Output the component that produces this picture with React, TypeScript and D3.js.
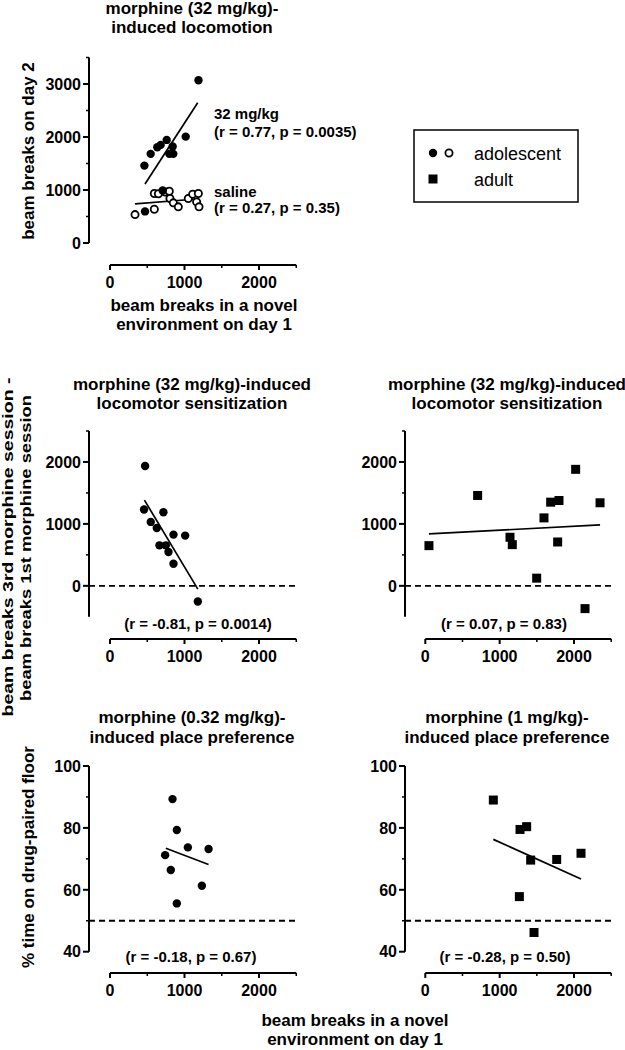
import React from "react";
import * as d3 from "d3";

// ---------- data ----------
const xMajorTicks = [0, 1000, 2000];
const xMinorTicks = [500, 1500, 2500];

// top: morphine (32 mg/kg)-induced locomotion, adolescent
const loco32X = [462, 546, 635, 680, 761, 841, 796, 850, 1016, 1188, 470, 707];
const loco32Y = [1460, 1682, 1808, 1851, 1945, 1820, 1682, 1682, 2007, 3070, 596, 990];
const locoSalX = [336, 595, 595, 740, 796, 805, 850, 917, 1051, 1110, 1186, 1163, 1195, 650];
const locoSalY = [536, 637, 933, 960, 977, 840, 758, 682, 840, 921, 933, 775, 682, 930];
const loco32FitX = [470, 1177];
const loco32FitY = [1113, 2647];
const locoSalFitX = [336, 1166];
const locoSalFitY = [740, 830];

// middle: sensitization
const sensAdoX = [471, 457, 547, 628, 717, 664, 749, 785, 852, 852, 1009, 1179];
const sensAdoY = [1935, 1232, 1032, 935, 1189, 654, 654, 546, 827, 357, 811, -254];
const sensAdoFitX = [462, 1179];
const sensAdoFitY = [1384, -54];
const sensAdultX = [49, 704, 1139, 1170, 1498, 1596, 1686, 1798, 1780, 2022, 2148, 2350];
const sensAdultY = [649, 1459, 784, 665, 124, 1097, 1351, 1378, 708, 1881, -368, 1341];
const sensAdultFitX = [49, 2350];
const sensAdultFitY = [838, 984];

// bottom: place preference
const cppAdoX = [839, 897, 1045, 1323, 740, 816, 1233, 897];
const cppAdoY = [89.3, 79.3, 73.7, 73.2, 71.2, 66.4, 61.3, 55.6];
const cppAdoFitX = [749, 1323];
const cppAdoFitY = [73.4, 68.2];
const cppAdultX = [915, 1274, 1363, 1417, 1767, 2094, 1265, 1462];
const cppAdultY = [89.0, 79.5, 80.4, 69.6, 69.8, 71.8, 57.8, 46.2];
const cppAdultFitX = [915, 2094];
const cppAdultFitY = [76.3, 63.5];

const FONT = "'Liberation Sans', Arial, Helvetica, sans-serif";

type Series = { xs: number[]; ys: number[]; shape: "filled" | "open" | "square" };
type Fit = { xs: number[]; ys: number[] };

type PanelProps = {
  yAxisX: number;
  xRange: [number, number];
  yDomain: [number, number];
  yRange: [number, number];
  xAxisY: number;
  yMajor: number[];
  yMinor: number[];
  series: Series[];
  fits: Fit[];
  refLine?: number;
};

function Marker({ cx, cy, shape }: { cx: number; cy: number; shape: string }) {
  if (shape === "square") return <rect x={cx - 4.5} y={cy - 4.5} width={9} height={9} fill="#000" />;
  if (shape === "open") return <circle cx={cx} cy={cy} r={3.6} fill="#fff" stroke="#000" strokeWidth={1.8} />;
  return <circle cx={cx} cy={cy} r={4.2} fill="#000" />;
}

function Panel(p: PanelProps) {
  const x = d3.scaleLinear().domain([0, 2500]).range(p.xRange);
  const y = d3.scaleLinear().domain(p.yDomain).range(p.yRange);
  const line = d3
    .line<[number, number]>()
    .x((d) => x(d[0]))
    .y((d) => y(d[1]));
  const yFmt = d3.format("d");
  return (
    <g>
      <line x1={p.yAxisX} x2={p.yAxisX} y1={y(p.yDomain[0])} y2={y(p.yDomain[1])} stroke="#000" strokeWidth={2} />
      {p.yMajor.map((t) => (
        <g key={"ym" + t}>
          <line x1={p.yAxisX - 6} x2={p.yAxisX} y1={y(t)} y2={y(t)} stroke="#000" strokeWidth={2} />
          <text x={p.yAxisX - 8} y={y(t)} dy="0.36em" textAnchor="end" fontSize={16} fontWeight="bold" fontFamily={FONT}>
            {yFmt(t)}
          </text>
        </g>
      ))}
      {p.yMinor.map((t) => (
        <line key={"yn" + t} x1={p.yAxisX - 3} x2={p.yAxisX} y1={y(t)} y2={y(t)} stroke="#000" strokeWidth={1.5} />
      ))}
      <line x1={x(0)} x2={x(2500)} y1={p.xAxisY} y2={p.xAxisY} stroke="#000" strokeWidth={2} />
      {xMajorTicks.map((t) => (
        <g key={"xm" + t}>
          <line x1={x(t)} x2={x(t)} y1={p.xAxisY} y2={p.xAxisY + 5} stroke="#000" strokeWidth={2} />
          <text x={x(t)} y={p.xAxisY + 22.5} textAnchor="middle" fontSize={16} fontWeight="bold" fontFamily={FONT}>
            {t}
          </text>
        </g>
      ))}
      {xMinorTicks.map((t) => (
        <line key={"xn" + t} x1={x(t)} x2={x(t)} y1={p.xAxisY} y2={p.xAxisY + 3} stroke="#000" strokeWidth={1.5} />
      ))}
      {p.refLine !== undefined && (
        <line x1={p.yAxisX} x2={x(2500)} y1={y(p.refLine)} y2={y(p.refLine)} stroke="#000" strokeWidth={1.8} strokeDasharray="6,4" />
      )}
      {p.fits.map((f, i) => (
        <path key={"f" + i} d={line(f.xs.map((v, j) => [v, f.ys[j]]) as [number, number][]) || ""} stroke="#000" strokeWidth={1.7} fill="none" />
      ))}
      {p.series.map((s, si) =>
        s.xs.map((v, i) => <Marker key={si + "-" + i} cx={x(v)} cy={y(s.ys[i])} shape={s.shape} />)
      )}
    </g>
  );
}

function Txt(props: { x: number; y: number; children: React.ReactNode; anchor?: string; weight?: string; size?: number }) {
  return (
    <text
      x={props.x}
      y={props.y}
      textAnchor={(props.anchor as any) || "middle"}
      fontSize={props.size || 17}
      fontWeight={props.weight || "bold"}
      fontFamily={FONT}
    >
      {props.children}
    </text>
  );
}

function VTxt(props: { x: number; y: number; children: React.ReactNode; size?: number; len?: number }) {
  const extra: any = props.len ? { textLength: props.len, lengthAdjust: "spacingAndGlyphs" } : {};
  return (
    <text
      transform={`translate(${props.x},${props.y}) rotate(-90)`}
      textAnchor="middle"
      dominantBaseline="central"
      fontSize={props.size || 17}
      fontWeight="bold"
      fontFamily={FONT}
      {...extra}
    >
      {props.children}
    </text>
  );
}

export default function App() {
  const L: [number, number] = [110, 296.25];
  const R: [number, number] = [425.3, 611.2];
  return (
    <svg width={625} height={1050} style={{ position: "absolute", left: 0, top: 0, background: "#fff" }}>
      <rect width={625} height={1050} fill="#fff" />
      {/* top panel */}
      <Txt x={192} y={13.5}>morphine (32 mg/kg)-</Txt>
      <Txt x={192} y={33}>induced locomotion</Txt>
      <Panel
        yAxisX={89}
        xRange={L}
        yDomain={[0, 3500]}
        yRange={[243, 57.5]}
        xAxisY={265}
        yMajor={[0, 1000, 2000, 3000]}
        yMinor={[500, 1500, 2500, 3500]}
        series={[
          { xs: locoSalX, ys: locoSalY, shape: "open" },
          { xs: loco32X, ys: loco32Y, shape: "filled" },
        ]}
        fits={[
          { xs: loco32FitX, ys: loco32FitY },
          { xs: locoSalFitX, ys: locoSalFitY },
        ]}
      />
      <VTxt x={28} y={151}>beam breaks on day 2</VTxt>
      <Txt x={214} y={119} anchor="start" size={15}>32 mg/kg</Txt>
      <Txt x={214} y={137} anchor="start" size={15}>(r = 0.77, p = 0.0035)</Txt>
      <Txt x={214} y={196.5} anchor="start" size={15}>saline</Txt>
      <Txt x={214} y={213} anchor="start" size={15}>(r = 0.27, p = 0.35)</Txt>
      <Txt x={204} y={310.7}>beam breaks in a novel</Txt>
      <Txt x={204} y={330}>environment on day 1</Txt>

      {/* legend */}
      <rect x={414} y={130} width={164} height={72} fill="none" stroke="#000" strokeWidth={1.5} />
      <Marker cx={433} cy={153} shape="filled" />
      <Marker cx={449} cy={153} shape="open" />
      <Marker cx={433} cy={179} shape="square" />
      <Txt x={474} y={159.5} anchor="start" weight="normal" size={18}>adolescent</Txt>
      <Txt x={474} y={185.5} anchor="start" weight="normal" size={18}>adult</Txt>

      {/* middle row */}
      <Txt x={192} y={389.7}>morphine (32 mg/kg)-induced</Txt>
      <Txt x={192} y={409}>locomotor sensitization</Txt>
      <Txt x={507} y={389.7}>morphine (32 mg/kg)-induced</Txt>
      <Txt x={507} y={409}>locomotor sensitization</Txt>
      <Panel
        yAxisX={89}
        xRange={L}
        yDomain={[-500, 2500]}
        yRange={[616.8, 431]}
        xAxisY={639}
        yMajor={[0, 1000, 2000]}
        yMinor={[500, 1500, 2500]}
        series={[{ xs: sensAdoX, ys: sensAdoY, shape: "filled" }]}
        fits={[{ xs: sensAdoFitX, ys: sensAdoFitY }]}
        refLine={0}
      />
      <Panel
        yAxisX={405}
        xRange={R}
        yDomain={[-500, 2500]}
        yRange={[616.8, 431]}
        xAxisY={639}
        yMajor={[0, 1000, 2000]}
        yMinor={[500, 1500, 2500]}
        series={[{ xs: sensAdultX, ys: sensAdultY, shape: "square" }]}
        fits={[{ xs: sensAdultFitX, ys: sensAdultFitY }]}
        refLine={0}
      />
      <Txt x={198} y={628.5} size={15}>(r = -0.81, p = 0.0014)</Txt>
      <Txt x={504} y={628.5} size={15}>(r = 0.07, p = 0.83)</Txt>
      <VTxt x={8} y={547} size={14.5} len={339}>beam breaks 3rd morphine session -</VTxt>
      <VTxt x={25.5} y={548} size={14.5} len={306}>beam breaks 1st morphine session</VTxt>

      {/* bottom row */}
      <Txt x={192} y={723}>morphine (0.32 mg/kg)-</Txt>
      <Txt x={192} y={742.5}>induced place preference</Txt>
      <Txt x={507} y={723}>morphine (1 mg/kg)-</Txt>
      <Txt x={507} y={742.5}>induced place preference</Txt>
      <Panel
        yAxisX={89}
        xRange={L}
        yDomain={[40, 100]}
        yRange={[951.7, 766]}
        xAxisY={973}
        yMajor={[40, 60, 80, 100]}
        yMinor={[50, 70, 90]}
        series={[{ xs: cppAdoX, ys: cppAdoY, shape: "filled" }]}
        fits={[{ xs: cppAdoFitX, ys: cppAdoFitY }]}
        refLine={50}
      />
      <Panel
        yAxisX={405}
        xRange={R}
        yDomain={[40, 100]}
        yRange={[951.7, 766]}
        xAxisY={973}
        yMajor={[40, 60, 80, 100]}
        yMinor={[50, 70, 90]}
        series={[{ xs: cppAdultX, ys: cppAdultY, shape: "square" }]}
        fits={[{ xs: cppAdultFitX, ys: cppAdultFitY }]}
        refLine={50}
      />
      <Txt x={191} y={962} size={15}>(r = -0.18, p = 0.67)</Txt>
      <Txt x={505} y={962} size={15}>(r = -0.28, p = 0.50)</Txt>
      <VTxt x={28} y={857}>% time on drug-paired floor</VTxt>
      <Txt x={355} y={1025.7}>beam breaks in a novel</Txt>
      <Txt x={355} y={1045}>environment on day 1</Txt>
    </svg>
  );
}
